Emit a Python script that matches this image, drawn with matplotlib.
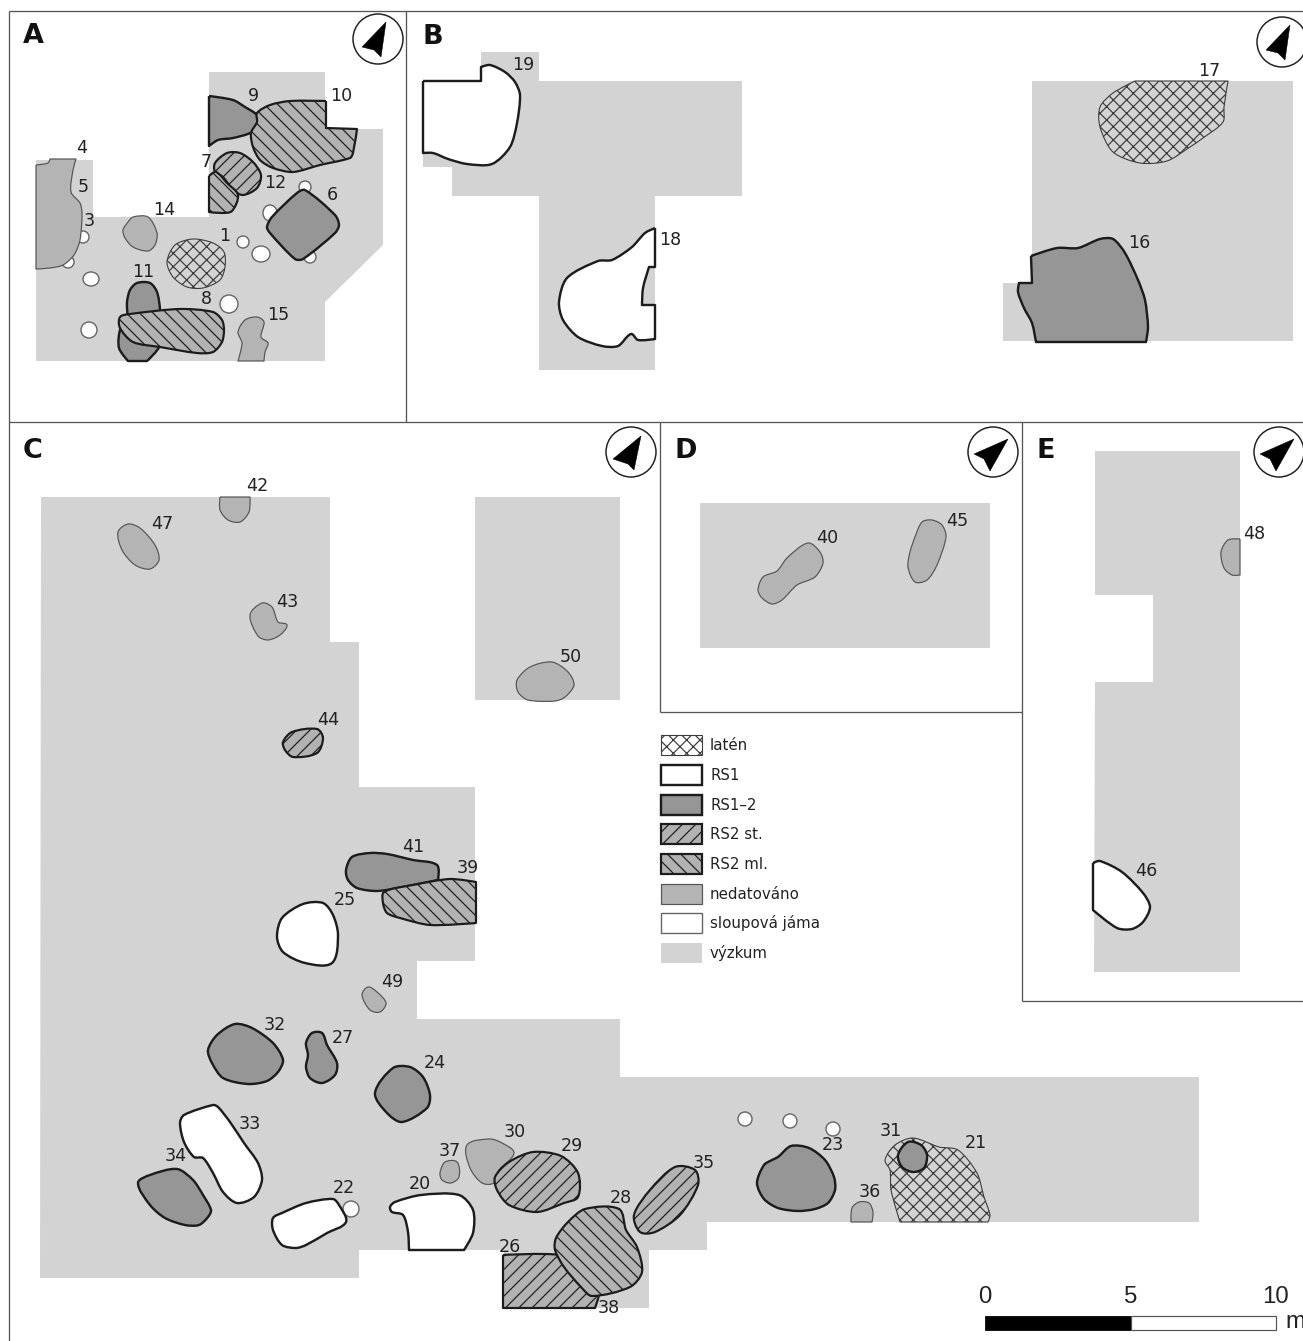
import math
import matplotlib
matplotlib.use("Agg")
import matplotlib.pyplot as plt
from matplotlib.path import Path
from matplotlib.patches import PathPatch, Polygon, Ellipse, Rectangle, Circle

plt.rcParams['font.family'] = ['DejaVu Sans']
DPI = 80
PT = 72 / DPI  # one pixel, in points
plt.rcParams['hatch.linewidth'] = 1.2 * PT

# ---- excavated areas (pixel map coordinates) ----
AREA_A = [(209,72),(325,72),(325,129),(383,129),(383,245),(325,302),(325,361),(36,361),(36,160),(93,160),(93,217),(209,217)]
AREA_B1 = [(423,81),(481,81),(481,52),(539,52),(539,81),(742,81),(742,196),(655,196),(655,370),(539,370),(539,196),(452,196),(452,167),(423,167)]
AREA_B2 = [(1032,81),(1293,81),(1293,341),(1003,341),(1003,283),(1032,283)]
AREA_C1 = [(41,497),(330,497),(330,642),(359,642),(359,787),(475,787),(475,961),(417,961),(417,1019),(620,1019),(620,1077),(1199,1077),(1199,1222),(707,1222),(707,1250),(649,1250),(649,1308),(504,1308),(504,1250),(359,1250),(359,1278),(40,1278)]
AREA_C2 = [(475,497),(620,497),(620,700),(475,700)]
AREA_D = [(700,503),(990,503),(990,648),(700,648)]
AREA_E = [(1095,451),(1240,451),(1240,972),(1094,972),(1095,682),(1153,682),(1153,595),(1095,595)]
AREAS = [AREA_A, AREA_B1, AREA_B2, AREA_C1, AREA_C2, AREA_D, AREA_E]

# ---- post holes: x, y, rx, ry ----
POST_HOLES = [(83,237,6,6),(68,262,6,6),(91,279,8,7),(89,330,8,8),(229,304,9,9),(243,242,6,6),(261,254,9,8),
              (270,213,7,8),(305,187,6,6),(310,257,6,6),(351,1209,8,8),(745,1119,7,7),(790,1121,7,7),(833,1129,7,7)]

# ---- features; a repeated vertex is a sharp corner ----
F1 = [(167,262),(175,245),(193,239),(213,243),(224,252),(225,267),(220,280),(203,288),(187,287),(173,277)]
F4 = [(36,165),(36,165),(48,163),(50,159),(50,159),(76,159),(76,159),(73,170),(71,192),(80,203),(82,213),(80,240),(74,255),(63,265),(50,268),(36,269),(36,269)]
F6 = [(305,190),(335,215),(339,225),(335,233),(303,259),(295,259),(270,233),(267,227),(272,217),(297,193)]
F7 = [(215,163),(227,153),(240,153),(253,162),(261,175),(257,188),(243,195),(233,190),(223,177),(215,172)]
F8 = [(120,317),(130,314),(180,309),(213,312),(222,320),(224,330),(222,342),(213,352),(197,353),(160,347),(133,342),(120,328)]
F9 = [(209,96),(209,96),(233,100),(245,107),(257,115),(258,122),(252,132),(233,138),(218,140),(209,146),(209,146)]
F10 = [(326,101),(326,101),(326,128),(326,128),(357,129),(357,129),(353,153),(350,158),(320,165),(293,172),(273,168),(260,160),(253,147),(251,133),(257,122),(257,113),(270,105),(290,101)]
F11 = [(127,302),(130,290),(137,283),(150,283),(157,292),(160,310),(160,345),(147,361),(147,361),(128,361),(128,361),(119,348),(120,330),(127,320)]
F12 = [(209,176),(209,176),(216,172),(227,183),(238,195),(232,211),(222,213),(209,212),(209,212)]
F14 = [(133,217),(148,217),(157,233),(155,245),(148,251),(133,247),(125,238),(123,230),(128,222)]
F15 = [(245,320),(257,317),(264,322),(261,337),(268,343),(265,352),(264,361),(264,361),(238,361),(238,361),(242,343),(238,332)]
F16 = [(1031,256),(1031,256),(1057,248),(1078,248),(1100,239),(1113,239),(1125,253),(1138,280),(1145,300),(1148,327),(1146,342),(1146,342),(1036,342),(1036,342),(1032,323),(1024,308),(1018,292),(1019,283),(1019,283),(1032,283),(1032,283)]
F17 = [(1135,81),(1135,81),(1228,81),(1228,81),(1224,107),(1223,122),(1203,138),(1190,147),(1167,161),(1140,163),(1113,152),(1100,127),(1100,107),(1113,93)]
F18 = [(655,228),(655,228),(655,267),(655,267),(649,267),(649,267),(643,288),(642,305),(642,305),(655,305),(655,305),(655,339),(655,339),(638,340),(631,334),(618,346),(602,346),(578,337),(563,320),(559,302),(567,278),(598,261),(612,260),(632,247),(645,233)]
F19 = [(423,81),(423,81),(481,81),(481,81),(481,67),(481,67),(490,65),(505,72),(515,82),(520,95),(517,123),(510,147),(492,164),(467,164),(448,159),(433,153),(423,153),(423,153)]
F20 = [(390,1207),(395,1202),(421,1195),(459,1195),(473,1210),(473,1233),(464,1250),(464,1250),(409,1250),(409,1250),(408,1232),(403,1215),(392,1212)]
F21 = [(885,1160),(895,1145),(913,1138),(939,1147),(958,1150),(977,1173),(984,1197),(990,1215),(988,1222),(988,1222),(900,1222),(900,1222),(891,1190),(890,1170)]
F22 = [(273,1218),(282,1213),(306,1203),(333,1199),(339,1205),(346,1222),(327,1233),(306,1245),(296,1248),(282,1245),(273,1230)]
F23 = [(757,1183),(764,1165),(772,1160),(778,1157),(791,1146),(809,1148),(825,1160),(834,1177),(835,1190),(828,1203),(815,1209),(798,1211),(778,1208),(764,1199)]
F24 = [(375,1093),(393,1068),(410,1067),(423,1077),(430,1095),(427,1108),(402,1122),(387,1113)]
F25 = [(277,937),(282,918),(303,904),(323,903),(333,915),(338,935),(332,963),(305,963),(283,952)]
F26 = [(503,1255),(503,1255),(560,1255),(600,1270),(595,1308),(595,1308),(503,1308),(503,1308)]
F27 = [(306,1043),(312,1033),(322,1033),(327,1045),(337,1063),(335,1075),(322,1083),(310,1078),(306,1067),(308,1055)]
F28 = [(556,1238),(568,1222),(585,1209),(619,1209),(626,1230),(637,1247),(642,1272),(630,1287),(592,1296),(581,1287),(564,1267),(555,1250)]
F29 = [(495,1177),(509,1162),(533,1152),(561,1156),(578,1173),(578,1197),(564,1203),(537,1212),(509,1205),(497,1190)]
F30 = [(467,1145),(490,1139),(502,1143),(514,1153),(499,1170),(494,1183),(482,1183),(470,1168)]
F31 = [(898,1155),(908,1142),(921,1145),(927,1155),(924,1168),(913,1172),(902,1167)]
F32 = [(208,1050),(217,1035),(235,1024),(252,1028),(273,1043),(283,1060),(278,1072),(267,1081),(248,1084),(223,1078),(212,1063)]
F33 = [(180,1123),(184,1115),(213,1105),(218,1107),(230,1122),(244,1143),(258,1163),(262,1180),(254,1197),(237,1203),(223,1192),(213,1173),(203,1158),(194,1157),(184,1142)]
F34 = [(138,1183),(150,1175),(177,1169),(193,1180),(203,1195),(211,1210),(208,1217),(199,1225),(185,1225),(165,1218),(150,1205)]
F35 = [(634,1215),(650,1190),(675,1167),(695,1170),(698,1185),(680,1215),(655,1232),(640,1232)]
F36 = [(851,1222),(851,1222),(852,1208),(859,1202),(869,1203),(873,1212),(872,1222),(872,1222)]
F37 = [(440,1173),(445,1162),(457,1162),(459,1177),(451,1183),(442,1180)]
F39 = [(384,892),(413,885),(450,879),(476,882),(476,882),(476,923),(476,923),(430,925),(400,918),(387,913),(383,903)]
F40 = [(758,590),(763,577),(777,571),(787,558),(808,543),(820,552),(823,563),(815,577),(797,585),(782,600),(772,604),(762,598)]
F41 = [(346,870),(352,857),(370,853),(387,854),(413,860),(437,865),(438,880),(438,880),(403,887),(377,891),(357,888),(348,880)]
F42 = [(220,497),(220,497),(250,497),(250,497),(249,512),(240,522),(228,520),(220,510)]
F43 = [(250,615),(262,603),(272,607),(278,622),(287,625),(280,635),(268,640),(258,636)]
F44 = [(283,742),(292,732),(317,729),(323,738),(317,753),(293,757),(285,750)]
F45 = [(922,522),(932,520),(942,525),(946,537),(937,565),(927,580),(915,582),(908,567),(910,552),(915,537)]
F46 = [(1093,863),(1093,863),(1100,861),(1122,872),(1143,893),(1150,907),(1143,922),(1132,929),(1117,928),(1093,910),(1093,910)]
F47 = [(118,532),(128,524),(140,528),(155,545),(159,560),(150,569),(135,565),(122,550)]
F48 = [(1240,539),(1240,539),(1228,540),(1221,552),(1224,568),(1232,575),(1240,575),(1240,575)]
F49 = [(362,995),(368,987),(377,992),(386,1003),(380,1012),(370,1010)]
F50 = [(517,680),(530,667),(552,662),(568,672),(574,685),(565,697),(555,701),(528,700),(518,692)]

FEATURES = [
    ('ned', F4), ('ned', F14), ('laten', F1), ('rs12', F6), ('rs12', F9), ('ml', F10), ('st', F7), ('ml', F12),
    ('rs12', F11), ('ml', F8), ('ned', F15),
    ('rs1', F19), ('rs1', F18), ('laten', F17), ('rs12', F16),
    ('ned', F42), ('ned', F47), ('ned', F43), ('st', F44), ('ned', F50), ('rs12', F41), ('ml', F39), ('rs1', F25),
    ('ned', F49), ('rs12', F32), ('rs12', F27), ('rs12', F24), ('rs1', F33), ('rs12', F34), ('rs1', F22), ('rs1', F20),
    ('ned', F37), ('ned', F30), ('st', F29), ('st', F26), ('ml', F28), ('st', F35), ('rs12', F23), ('ned', F36),
    ('laten', F21), ('rs12', F31),
    ('ned', F40), ('ned', F45), ('ned', F48), ('rs1', F46),
]

# ---- text ----
NUMBERS = [('4',82,148),('5',83,187),('3',89,221),('14',164,210),('1',225,236),('6',332,195),('7',206,162),('12',275,183),
           ('9',253,96),('10',341,96),('11',143,272),('8',206,299),('15',278,315),
           ('19',523,65),('18',670,240),('17',1209,71),('16',1139,243),
           ('42',257,486),('47',162,524),('43',287,602),('44',328,720),('50',571,657),('41',413,847),('39',468,868),
           ('25',345,900),('49',392,982),('32',275,1025),('27',343,1038),('24',435,1063),('33',250,1124),('34',176,1156),
           ('22',344,1188),('20',420,1184),('37',450,1151),('30',515,1132),('29',572,1146),('28',621,1198),('26',510,1247),
           ('38',609,1308),('35',704,1163),('23',833,1145),('31',891,1131),('21',976,1143),('36',870,1192),
           ('40',827,538),('45',957,521),('48',1254,534),('46',1146,871)]
PANELS = [('A',33,36),('B',433,37),('C',33,451),('D',686,451),('E',1046,451)]
LEGEND_LABELS = ['latén','RS1','RS1–2','RS2 st.','RS2 ml.','nedatováno','sloupová jáma','výzkum']
LEGEND_KINDS = ['laten','rs1','rs12','st','ml','ned','hole','area']
LEGEND_Y = [745,775,805,834,864,894,923,953]
SCALE_METRES = [0,5,10]

# ---- north arrows ----
ARROW_CENTRES = [(378,39),(1282,42),(631,452),(993,452),(1279,452)]
ARROW_A = [(8,-17),(-16,8),(-4,11),(3,18)]
ARROW_C = [(10,-16),(-18,7),(-3,12),(3,18)]
ARROW_D = [(15,-13),(-19,2),(-9,7),(-3,19)]
ARROW_SHAPES = [ARROW_A, ARROW_A, ARROW_C, ARROW_D, ARROW_D]

FRAME_LINES = [[(9,11),(1303,11)],[(9,11),(9,1341)],[(406,11),(406,422)],[(9,422),(1303,422)],
               [(660,422),(660,712)],[(660,712),(1022,712)],[(1022,422),(1022,1001)],[(1022,1001),(1303,1001)]]

AREA_C = '#d3d3d3'
DARK = '#1c1c1c'
STYLES = {
    'laten': dict(facecolor='none', edgecolor='#3c3c3c', hatch='xx', linewidth=1.1*PT),
    'rs1':   dict(facecolor='white', edgecolor=DARK, linewidth=2.4*PT),
    'rs12':  dict(facecolor='#969696', edgecolor=DARK, linewidth=2.4*PT),
    'st':    dict(facecolor='#b2b2b2', edgecolor=DARK, hatch='//', linewidth=2.2*PT),
    'ml':    dict(facecolor='#b2b2b2', edgecolor=DARK, hatch='\\\\', linewidth=2.2*PT),
    'ned':   dict(facecolor='#b4b4b4', edgecolor='#555555', linewidth=1.2*PT),
    'hole':  dict(facecolor='white', edgecolor='#666666', linewidth=1.4*PT),
    'area':  dict(facecolor=AREA_C, edgecolor='none', linewidth=0),
}

def smooth_path(pts):
    """Closed rounded outline through the read vertices; a repeated vertex stays a corner."""
    nodes, sharp = [], []
    for p in pts:
        if nodes and p == nodes[-1]:
            sharp[-1] = True
        else:
            nodes.append(p)
            sharp.append(False)
    n = len(nodes)
    tang = []
    for i in range(n):
        a, b = nodes[i-1], nodes[(i+1) % n]
        dx, dy = b[0]-a[0], b[1]-a[1]
        d = math.hypot(dx, dy) or 1.0
        tang.append((0.0, 0.0) if sharp[i] else (dx/d, dy/d))
    verts = [nodes[0]]
    codes = [Path.MOVETO]
    for i in range(n):
        j = (i+1) % n
        p, q = nodes[i], nodes[j]
        h = math.hypot(q[0]-p[0], q[1]-p[1]) * 0.28
        verts += [(p[0]+tang[i][0]*h, p[1]+tang[i][1]*h),
                  (q[0]-tang[j][0]*h, q[1]-tang[j][1]*h), q]
        codes += [Path.CURVE4]*3
    return Path(verts, codes)

W, H = 1303, 1341
fig = plt.figure(figsize=(W/DPI, H/DPI), dpi=DPI, facecolor='white')
ax = fig.add_axes([0, 0, 1, 1])
ax.set_xlim(0, W)
ax.set_ylim(H, 0)
ax.axis('off')

for a in AREAS:
    ax.add_patch(Polygon(a, closed=True, facecolor=AREA_C, edgecolor='none', zorder=1))
for x, y, rx, ry in POST_HOLES:
    ax.add_patch(Ellipse((x, y), 2*rx, 2*ry, zorder=2, **STYLES['hole']))
for z, (kind, pts) in enumerate(FEATURES):
    ax.add_patch(PathPatch(smooth_path(pts), zorder=3+z*0.01, joinstyle='round', **STYLES[kind]))

for seg in FRAME_LINES:
    ax.plot(*zip(*seg), color='#555555', lw=1.3*PT, zorder=5, solid_capstyle='butt')

for t, x, y in NUMBERS:
    ax.text(x, y, t, fontsize=17.5*PT, color='#222222', ha='center', va='center', zorder=6)
for t, x, y in PANELS:
    ax.text(x, y, t, fontsize=27*PT, fontweight='bold', color='#111111', ha='center', va='center', zorder=6)

for (cx, cy), shape in zip(ARROW_CENTRES, ARROW_SHAPES):
    ax.add_patch(Circle((cx, cy), 25, facecolor='white', edgecolor='#222222', lw=1.5*PT, zorder=7))
    ax.add_patch(Polygon([(cx+dx, cy+dy) for dx, dy in shape], closed=True, facecolor='black', edgecolor='black', lw=0.5*PT, zorder=8))

for label, kind, y in zip(LEGEND_LABELS, LEGEND_KINDS, LEGEND_Y):
    ax.add_patch(Rectangle((661, y-10), 41, 20, zorder=6, **STYLES[kind]))
    ax.text(710, y, label, fontsize=15*PT, color='#222222', ha='left', va='center', zorder=6)

# scale bar
PX_PER_M = 29.1
X0 = 985
ax.add_patch(Rectangle((X0, 1316), SCALE_METRES[1]*PX_PER_M, 14, facecolor='black', edgecolor='black', lw=0.8*PT, zorder=6))
ax.add_patch(Rectangle((X0+SCALE_METRES[1]*PX_PER_M, 1316), (SCALE_METRES[2]-SCALE_METRES[1])*PX_PER_M, 14,
                       facecolor='white', edgecolor='#555555', lw=1.2*PT, zorder=6))
for v in SCALE_METRES:
    ax.text(X0+v*PX_PER_M, 1297, str(v), family='Liberation Sans', fontsize=24*PT, color='#222222', ha='center', va='center', zorder=6)
ax.text(1285, 1322, 'm', family='Liberation Sans', fontsize=24*PT, color='#222222', ha='left', va='center', zorder=6)

fig.savefig('out.png', dpi=DPI, facecolor='white')
